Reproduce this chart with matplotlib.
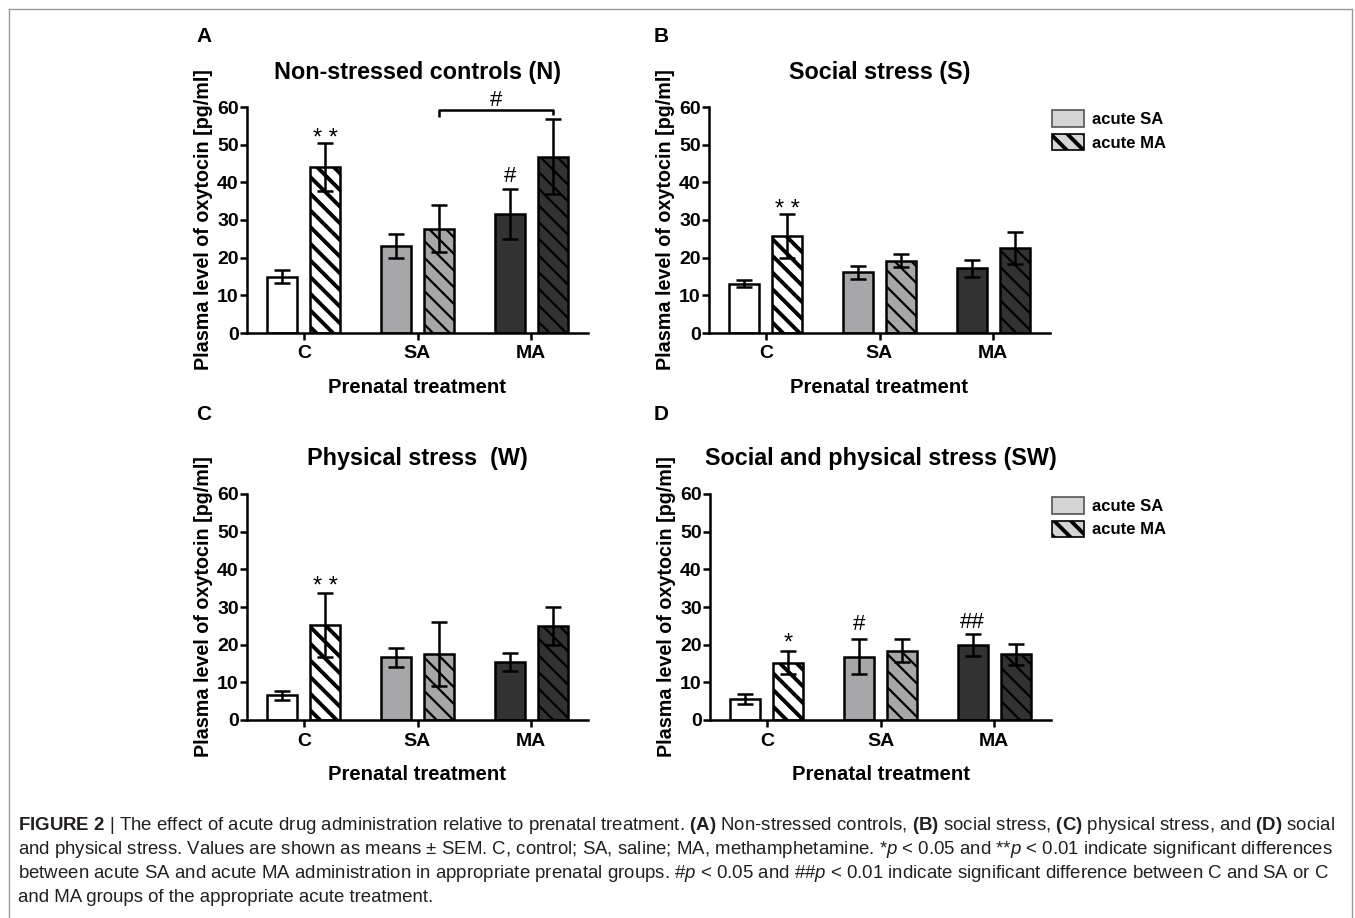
import matplotlib
matplotlib.use('Agg')
import matplotlib.pyplot as plt
from matplotlib.patches import Patch
from matplotlib.lines import Line2D
import numpy as np

plt.rcParams['font.family'] = ['Liberation Sans', 'DejaVu Sans']
plt.rcParams['mathtext.fontset'] = 'custom'
plt.rcParams['mathtext.rm'] = 'Liberation Sans'
plt.rcParams['mathtext.bf'] = 'Liberation Sans:bold'
plt.rcParams['mathtext.it'] = 'Liberation Sans:italic'
plt.rcParams['hatch.linewidth'] = 1.6

# data
groups = ['C', 'SA', 'MA']

N_sa = [15.0, 23.1, 31.5]
N_sa_err = [1.7, 3.1, 6.6]
N_ma = [44.0, 27.7, 46.8]
N_ma_err = [6.4, 6.2, 9.9]

S_sa = [13.1, 16.1, 17.2]
S_sa_err = [1.0, 1.8, 2.2]
S_ma = [25.7, 19.2, 22.6]
S_ma_err = [5.8, 1.8, 4.2]

W_sa = [6.6, 16.6, 15.4]
W_sa_err = [1.2, 2.6, 2.4]
W_ma = [25.1, 17.5, 25.0]
W_ma_err = [8.5, 8.4, 5.1]

SW_sa = [5.5, 16.8, 19.8]
SW_sa_err = [1.3, 4.6, 2.9]
SW_ma = [15.2, 18.4, 17.5]
SW_ma_err = [3.0, 3.0, 2.8]

titles = ['Non-stressed controls (N)', 'Social stress (S)',
          'Physical stress  (W)', 'Social and physical stress (SW)']
letters = ['A', 'B', 'C', 'D']

# significance marks: (series, group, text, y)
marks = [
    [('ma', 0, '* *', 51.6), ('sa', 2, '#', 41.5)],
    [('ma', 0, '* *', 32.6)],
    [('ma', 0, '* *', 35.3)],
    [('ma', 0, '*', 20.3), ('sa', 1, '#', 25.3), ('sa', 2, '##', 25.9)],
]

panels = [
    (N_sa, N_sa_err, N_ma, N_ma_err),
    (S_sa, S_sa_err, S_ma, S_ma_err),
    (W_sa, W_sa_err, W_ma, W_ma_err),
    (SW_sa, SW_sa_err, SW_ma, SW_ma_err),
]

fill = ['white', '#a7a7aa', '#323232']

W, H = 1355, 918
fig = plt.figure(figsize=(W / 100, H / 100), dpi=100)

# axes boxes in pixels: left, right, top, bottom
boxes = [(247, 588, 107, 333), (709, 1050, 107, 333),
         (247, 588, 494, 720), (710, 1051, 494, 720)]
letter_pos = [(204, 37), (661, 37), (204, 415), (661, 415)]

x = np.arange(len(groups))
bw = 0.264
off = 0.19

for i, (sa, sa_e, ma, ma_e) in enumerate(panels):
    l, r, t, b = boxes[i]
    ax = fig.add_axes([l / W, 1 - b / H, (r - l) / W, (b - t) / H])
    for j in range(3):
        ax.bar(x[j] - off, sa[j], bw, color=fill[j], edgecolor='black', lw=1.8, zorder=2)
        p = ax.bar(x[j] + off, ma[j], bw, color=fill[j], edgecolor='black', lw=1.8,
                   hatch='\\\\', zorder=2)
        if j == 0:
            try:
                p[0].set_hatch_linewidth(2.8)
            except AttributeError:
                pass
    ax.errorbar(x - off, sa, yerr=sa_e, fmt='none', ecolor='black', elinewidth=1.8,
                capsize=6, capthick=1.8, zorder=3)
    ax.errorbar(x + off, ma, yerr=ma_e, fmt='none', ecolor='black', elinewidth=1.8,
                capsize=6, capthick=1.8, zorder=3)

    ax.set_xlim(-0.5, 2.5)
    ax.set_ylim(0, 60)
    ax.set_yticks([0, 10, 20, 30, 40, 50, 60])
    ax.set_xticks(x)
    ax.set_xticklabels(groups)
    for s in ['top', 'right']:
        ax.spines[s].set_visible(False)
    for s in ['left', 'bottom']:
        ax.spines[s].set_linewidth(1.8)
    ax.tick_params(axis='both', width=1.8, length=5, labelsize=14)
    ax.tick_params(axis='y', pad=1)
    ax.tick_params(axis='x', pad=4)
    for lab in ax.get_xticklabels() + ax.get_yticklabels():
        lab.set_fontweight('bold')

    ax.set_ylabel('Plasma level of oxytocin [pg/ml]', fontsize=14.2, fontweight='bold')
    ax.yaxis.set_label_coords(-0.1, 0.5)
    ax.set_xlabel('Prenatal treatment', fontsize=14.6, fontweight='bold')
    ax.xaxis.set_label_coords(0.5, -0.2)
    ax.text(0.5, 1 + 35 / 226, titles[i], transform=ax.transAxes, ha='center',
            va='center', fontsize=16.8, fontweight='bold')

    lx, ly = letter_pos[i]
    fig.text(lx / W, 1 - ly / H, letters[i], ha='center', va='center',
             fontsize=15, fontweight='bold')

    for series, g, txt, yy in marks[i]:
        xx = x[g] + (off if series == 'ma' else -off)
        fs = 17 if '*' in txt else 16
        ax.text(xx, yy, txt, ha='center', va='center', fontsize=fs, clip_on=False)

    if i == 0:
        x0 = x[1] + off
        x1 = x[2] + off
        ax.plot([x0, x0, x1, x1], [57.4, 59.2, 59.2, 57.8], color='black', lw=1.8,
                clip_on=False, solid_capstyle='butt')
        ax.text((x0 + x1) / 2, 61.8, '#', ha='center', va='center', fontsize=16,
                clip_on=False)

    if i in (1, 3):
        handles = [Patch(facecolor='#d4d4d4', edgecolor='#555555', lw=1.2, label='acute SA'),
                   Patch(facecolor='#d4d4d4', edgecolor='black', lw=1.2, hatch='\\\\',
                         label='acute MA')]
        ty = 110 if i == 1 else 497
        leg = fig.legend(handles=handles, loc='upper left',
                         bbox_to_anchor=(1052 / W, 1 - ty / H), frameon=False,
                         borderpad=0, borderaxespad=0, handlelength=1.9, handleheight=1.15,
                         handletextpad=0.5, labelspacing=0.4,
                         prop={'size': 12, 'weight': 'bold'})
        try:
            leg.legend_handles[1].set_hatch_linewidth(2.8)
        except AttributeError:
            pass

# frame
fc = '#9a9a9a'
fig.add_artist(Line2D([9 / W, 1352 / W], [1 - 9 / H, 1 - 9 / H], color=fc, lw=1))
fig.add_artist(Line2D([9 / W, 9 / W], [0, 1 - 9 / H], color=fc, lw=1))
fig.add_artist(Line2D([1352 / W, 1352 / W], [0, 1 - 9 / H], color=fc, lw=1))

caption = [
    r"$\mathbf{FIGURE\ 2}$ | The effect of acute drug administration relative to prenatal treatment. "
    r"$\mathbf{(A)}$ Non-stressed controls, $\mathbf{(B)}$ social stress, $\mathbf{(C)}$ physical stress, and $\mathbf{(D)}$ social",
    r"and physical stress. Values are shown as means ± SEM. C, control; SA, saline; MA, methamphetamine. "
    r"*$\mathit{p}$ < 0.05 and **$\mathit{p}$ < 0.01 indicate significant differences",
    r"between acute SA and acute MA administration in appropriate prenatal groups. "
    r"#$\mathit{p}$ < 0.05 and ##$\mathit{p}$ < 0.01 indicate significant difference between C and SA or C",
    "and MA groups of the appropriate acute treatment.",
]
cap_y = [826, 850, 873, 897]
for line, yy in zip(caption, cap_y):
    fig.text(18 / W, 1 - yy / H, line, ha='left', va='center', fontsize=13.4,
             color='#231f20')

fig.savefig('out.png', dpi=100)
